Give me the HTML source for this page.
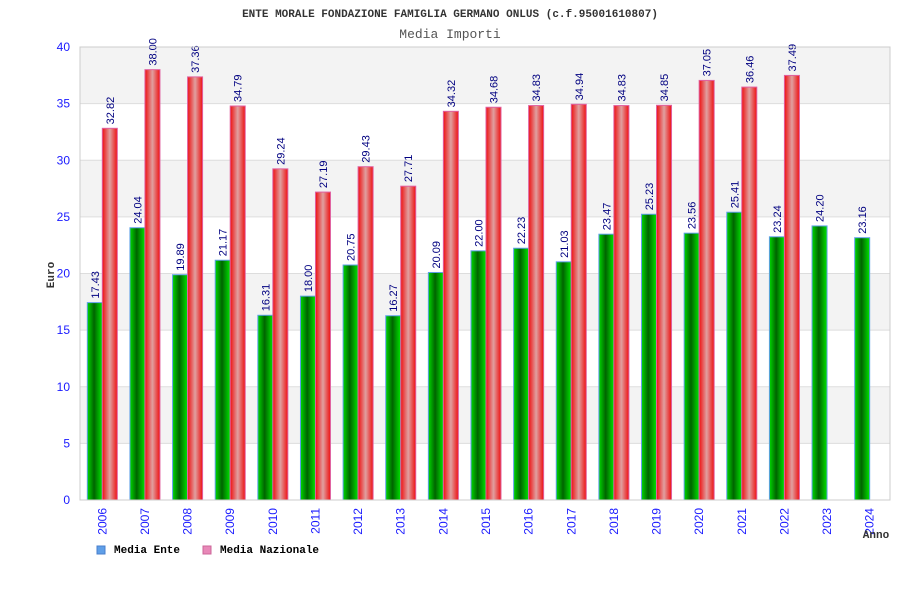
<!DOCTYPE html>
<html><head><meta charset="utf-8"><style>
body{margin:0;background:#fff;}
svg{display:block;font-family:"Liberation Sans",sans-serif;}
</style></head><body>
<svg id="chart" width="900" height="600" viewBox="0 0 900 600">
<defs>
<linearGradient id="gG" x1="0" x2="1" y1="0" y2="0">
<stop offset="0" stop-color="#00d800"/><stop offset="0.45" stop-color="#006400"/><stop offset="1" stop-color="#00e400"/></linearGradient>
<linearGradient id="gR" x1="0" x2="1" y1="0" y2="0">
<stop offset="0" stop-color="#ee1010"/><stop offset="0.5" stop-color="#e0a0a0"/><stop offset="1" stop-color="#ee1010"/></linearGradient>
</defs>
<text x="450" y="17" text-anchor="middle" font-family="Liberation Mono,monospace" font-size="11" font-weight="bold" fill="#333">ENTE MORALE FONDAZIONE FAMIGLIA GERMANO ONLUS (c.f.95001610807)</text>
<text x="450" y="38" text-anchor="middle" font-family="Liberation Mono,monospace" font-size="13" fill="#555">Media Importi</text>
<g id="grid"></g>
<g id="bars"></g>
<g id="axes"></g>
<text x="54" y="275" transform="rotate(-90 54 275)" text-anchor="middle" font-family="Liberation Mono,monospace" font-size="11" font-weight="bold" fill="#333">Euro</text>
<text x="876" y="538" text-anchor="middle" font-family="Liberation Mono,monospace" font-size="11" font-weight="bold" fill="#333">Anno</text>
<g>
<rect x="97" y="546" width="8" height="8" fill="#5f9fe8" stroke="#4a7fcc"/>
<text x="114" y="553" font-family="Liberation Mono,monospace" font-size="11" font-weight="bold" fill="#000">Media Ente</text></g>
<g>
<rect x="203" y="546" width="8" height="8" fill="#e888b8" stroke="#cc6699"/>
<text x="220" y="553" font-family="Liberation Mono,monospace" font-size="11" font-weight="bold" fill="#000">Media Nazionale</text></g>
</svg>
<script>
const years=["2006","2007","2008","2009","2010","2011","2012","2013","2014","2015","2016","2017","2018","2019","2020","2021","2022","2023","2024"];
const ente=[17.43,24.04,19.89,21.17,16.31,18.00,20.75,16.27,20.09,22.00,22.23,21.03,23.47,25.23,23.56,25.41,23.24,24.20,23.16];
const nazionale=[32.82,38.00,37.36,34.79,29.24,27.19,29.43,27.71,34.32,34.68,34.83,34.94,34.83,34.85,37.05,36.46,37.49,null,null];
const yTicks=[0,5,10,15,20,25,30,35,40];
const NS="http://www.w3.org/2000/svg";
const L=80,R=890,T=47,B=500,yMax=40;
const y=v=>B-(v/yMax)*(B-T);
const gw=(R-L)/years.length;
const xc=i=>L+1+gw*(i+0.5);
function mk(tag,attrs,parent){const e=document.createElementNS(NS,tag);for(const k in attrs)e.setAttribute(k,attrs[k]);parent.appendChild(e);return e;}
const grid=document.getElementById('grid'),bars=document.getElementById('bars'),axes=document.getElementById('axes');
for(let k=0;k<yTicks.length-1;k++){
  if(k%2===1){const r=mk('rect',{x:L,y:y(yTicks[k+1]),width:R-L,height:y(yTicks[k])-y(yTicks[k+1]),fill:'#f3f3f3'},grid);
  
  }
}
yTicks.forEach(t=>{
  const ln=mk('line',{x1:L,x2:R,y1:y(t),y2:y(t),stroke:'#dddddd','stroke-width':1},grid);
  
  
  const tx=mk('text',{x:70,y:y(t)+4,'text-anchor':'end','font-size':12,fill:'#1a1aff'},axes);
  tx.textContent=t;
  
  
});
const fr=mk('rect',{x:L,y:T,width:R-L,height:B-T,fill:'none',stroke:'#cccccc'},axes);


const bw=15;
function label(xm,v,parent){
  const yy=y(v)-4;
  const t=mk('text',{x:xm+4,y:yy,transform:`rotate(-90 ${xm+4} ${yy})`,'font-size':11,fill:'#000080'},parent);
  t.textContent=v.toFixed(2);
  
  
}
years.forEach((yr,i)=>{
  const c=xc(i);
  if(ente[i]!=null){
    const r=mk('rect',{x:c-bw,y:y(ente[i]),width:bw,height:B-y(ente[i]),fill:'url(#gG)',stroke:'#5f9fe8','stroke-width':1},bars);
    
    
    label(c-bw/2,ente[i],bars);
  }
  if(nazionale[i]!=null){
    const r=mk('rect',{x:c,y:y(nazionale[i]),width:bw,height:B-y(nazionale[i]),fill:'url(#gR)',stroke:'#e060a0','stroke-width':1},bars);
    
    
    label(c+bw/2,nazionale[i],bars);
  }
  const t=mk('text',{x:c+4,y:508,transform:`rotate(-90 ${c+4} 508)`,'text-anchor':'end','font-size':12,fill:'#1a1aff'},axes);
  t.textContent=yr;
  
  
});
</script>
</body></html>
